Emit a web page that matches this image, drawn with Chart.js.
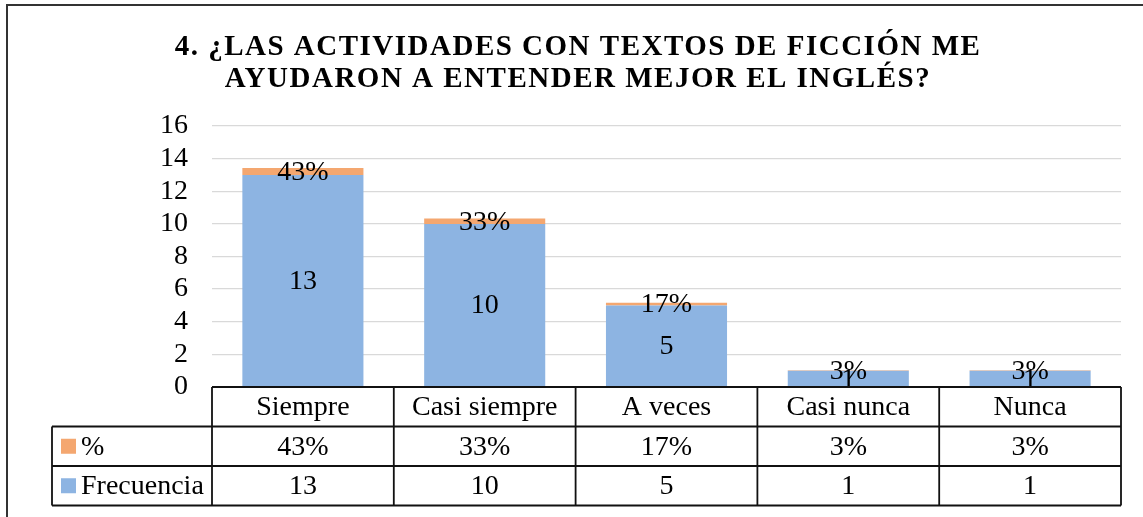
<!DOCTYPE html>
<html>
<head>
<meta charset="utf-8">
<script src="https://cdn.jsdelivr.net/npm/chart.js@4/dist/chart.umd.min.js"></script>
<style>
  html, body { margin: 0; padding: 0; background: #fff; }
  #wrap { position: relative; width: 1143px; height: 517px; }
</style>
</head>
<body>
<div id="wrap"><canvas id="myChart"></canvas></div>
<script>
const titulo = ['4. ¿LAS ACTIVIDADES CON TEXTOS DE FICCIÓN ME', 'AYUDARON A ENTENDER MEJOR EL INGLÉS?'];
const categorias = ['Siempre', 'Casi siempre', 'A veces', 'Casi nunca', 'Nunca'];
const frecuencia = [13, 10, 5, 1, 1];
const porcentaje = [0.43, 0.33, 0.17, 0.03, 0.03];
const yMin = 0;
const yMax = 16;
const yStep = 2;

const AZUL = '#8db4e2';
const NARANJA = '#f4a770';
const SERIF = "'Liberation Serif', 'Times New Roman', serif";
const TXT = 28;

Chart.defaults.font.family = SERIF;
Chart.defaults.color = '#000';

const fmtPct = (v) => Math.round(v * 100) + '%';

// two-line bold title, slightly spaced out
const tituloPlugin = {
  id: 'tituloPlugin',
  afterDraw(chart) {
    const ctx = chart.ctx;
    ctx.save();
    ctx.font = 'bold 29px ' + SERIF;
    ctx.fillStyle = '#000';
    ctx.textAlign = 'center';
    ctx.textBaseline = 'alphabetic';
    ctx.letterSpacing = '1.5px';
    ctx.fillText(titulo[0], 578, 55);
    ctx.fillText(titulo[1], 578, 87);
    ctx.restore();
  },
};

// value labels inside each stacked segment
const etiquetasPlugin = {
  id: 'etiquetasPlugin',
  afterDatasetsDraw(chart) {
    const ctx = chart.ctx;
    ctx.save();
    ctx.font = TXT + 'px ' + SERIF;
    ctx.fillStyle = '#000';
    ctx.textAlign = 'center';
    ctx.textBaseline = 'middle';
    chart.data.datasets.forEach((ds, i) => {
      chart.getDatasetMeta(i).data.forEach((bar, j) => {
        const txt = ds.label === '%' ? fmtPct(ds.data[j]) : String(ds.data[j]);
        ctx.fillText(txt, bar.x, (bar.y + bar.base) / 2 + 1);
      });
    });
    ctx.restore();
  },
};

// data table under the plot, plus the outer frame
const tablaPlugin = {
  id: 'tablaPlugin',
  afterDraw(chart) {
    const ctx = chart.ctx;
    const area = chart.chartArea;
    const x = chart.scales.x;
    const rowH = 39.5;
    const top = area.bottom;
    const legendLeft = 52;
    const n = categorias.length;
    const colW = (area.right - area.left) / n;

    ctx.save();
    ctx.strokeStyle = '#111';
    ctx.lineWidth = 1.8;

    ctx.beginPath();
    // horizontal lines
    [[area.left, top], [legendLeft, top + rowH], [legendLeft, top + rowH * 2], [legendLeft, top + rowH * 3]]
      .forEach(([x0, y]) => {
        ctx.moveTo(x0, y);
        ctx.lineTo(area.right, y);
      });
    // vertical lines
    ctx.moveTo(legendLeft, top + rowH);
    ctx.lineTo(legendLeft, top + rowH * 3);
    for (let i = 0; i <= n; i++) {
      const xx = area.left + colW * i;
      ctx.moveTo(xx, top);
      ctx.lineTo(xx, top + rowH * 3);
    }
    ctx.stroke();

    ctx.font = TXT + 'px ' + SERIF;
    ctx.fillStyle = '#000';
    ctx.textBaseline = 'middle';
    ctx.textAlign = 'center';
    categorias.forEach((c, i) => {
      const cx = x.getPixelForValue(i);
      ctx.fillText(c, cx, top + rowH * 0.5 + 1);
      ctx.fillText(fmtPct(porcentaje[i]), cx, top + rowH * 1.5 + 1);
      ctx.fillText(String(frecuencia[i]), cx, top + rowH * 2.5 + 1);
    });

    // series keys, % first
    const filas = [
      { label: '%', color: NARANJA },
      { label: 'Frecuencia', color: AZUL },
    ];
    ctx.textAlign = 'left';
    filas.forEach((f, k) => {
      const cy = top + rowH * (1.5 + k);
      ctx.fillStyle = f.color;
      ctx.fillRect(61, cy - 7.5, 15, 15);
      ctx.fillStyle = '#000';
      ctx.fillText(f.label, 81, cy + 1);
    });

    // outer frame
    ctx.strokeStyle = '#333';
    ctx.lineWidth = 2;
    ctx.beginPath();
    ctx.moveTo(7, chart.height + 2);
    ctx.lineTo(7, 5);
    ctx.lineTo(chart.width + 2, 5);
    ctx.stroke();
    ctx.restore();
  },
};

new Chart(document.getElementById('myChart'), {
  type: 'bar',
  data: {
    labels: categorias,
    datasets: [
      {
        label: 'Frecuencia',
        data: frecuencia,
        backgroundColor: AZUL,
        barPercentage: 0.666,
        categoryPercentage: 1,
      },
      {
        label: '%',
        data: porcentaje,
        backgroundColor: NARANJA,
        barPercentage: 0.666,
        categoryPercentage: 1,
      },
    ],
  },
  options: {
    responsive: true,
    maintainAspectRatio: false,
    animation: false,
    layout: {
      padding: { top: 126, right: 22, bottom: 130, left: 0 },
    },
    plugins: {
      legend: { display: false },
      title: { display: false },
      tooltip: { enabled: false },
    },
    scales: {
      x: {
        stacked: true,
        display: false,
      },
      y: {
        stacked: true,
        min: yMin,
        max: yMax,
        afterFit(scale) {
          scale.width = 212;
        },
        ticks: {
          stepSize: yStep,
          autoSkip: false,
          padding: 24,
          font: { size: TXT },
          color: '#000',
        },
        grid: {
          color: '#d9d9d9',
          lineWidth: 1.3,
          drawTicks: false,
        },
        border: { display: false },
      },
    },
  },
  plugins: [tituloPlugin, etiquetasPlugin, tablaPlugin],
});
</script>
</body>
</html>
